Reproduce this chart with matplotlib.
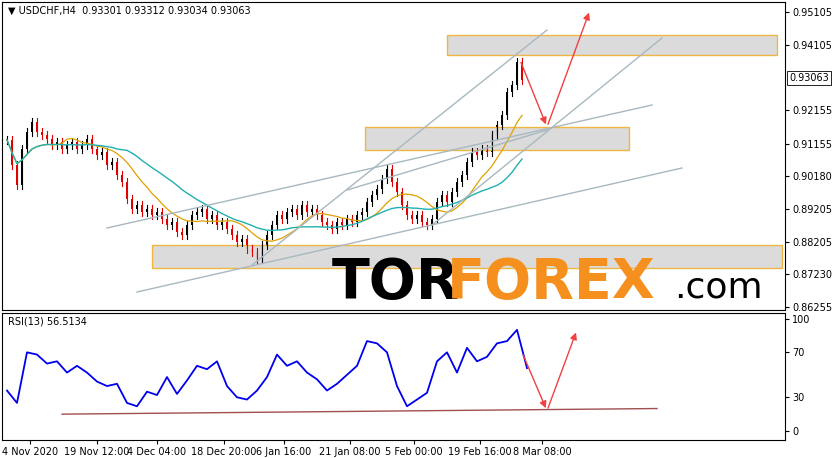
import numpy as np, pandas as pd
import matplotlib
matplotlib.use("Agg")
import matplotlib.pyplot as plt
from matplotlib.patches import Rectangle

closes = [0.9127,0.905,0.899,0.910,0.915,0.918,0.915,0.914,0.913,0.911,0.912,0.910,0.911,0.912,0.910,0.911,0.913,0.910,0.908,0.909,
0.905,0.906,0.902,0.900,0.895,0.892,0.893,0.891,0.892,0.890,0.891,0.889,0.887,0.888,0.885,0.884,0.887,0.890,0.891,0.892,
0.889,0.890,0.887,0.888,0.886,0.884,0.882,0.883,0.880,0.879,0.877,0.881,0.884,0.887,0.890,0.889,0.891,0.892,0.890,0.893,
0.891,0.892,0.890,0.888,0.887,0.886,0.888,0.887,0.889,0.888,0.890,0.891,0.894,0.896,0.898,0.901,0.904,0.900,0.897,0.893,
0.890,0.889,0.890,0.888,0.887,0.889,0.894,0.896,0.894,0.897,0.900,0.902,0.906,0.909,0.908,0.910,0.909,0.914,0.917,0.920,
0.927,0.929,0.936,0.93063]
rsi_vals = [36,25,70,68,60,62,52,58,52,44,40,42,25,22,35,32,48,33,45,58,55,62,40,30,28,36,48,68,58,62,
52,46,36,42,50,58,80,78,70,40,22,28,34,62,70,52,74,62,66,78,80,90,56]
price_ticks = [0.95105,0.94105,0.92155,0.91155,0.90180,0.89205,0.88205,0.87230,0.86255]
date_labels = ["4 Nov 2020","19 Nov 12:00","4 Dec 04:00","18 Dec 20:00","6 Jan 16:00","21 Jan 08:00","5 Feb 00:00","19 Feb 16:00","8 Mar 08:00"]
date_pos = [28,95,155,222,282,348,412,478,540]

W,H = 838,458
fig = plt.figure(figsize=(W/100,H/100),dpi=100)
def P(y): return 0.95105-(y-12)*0.0003
ax = fig.add_axes([2/W,(H-310)/H,783/W,308/H])
ax2 = fig.add_axes([2/W,(H-440)/H,783/W,127/H])
for a in (ax,ax2):
    a.set_xlim(0,783)
    for s in a.spines.values(): s.set_color('black'); s.set_linewidth(0.8)
    a.yaxis.tick_right()
    a.tick_params(labelsize=7,length=3,direction='out',pad=2)
ax.set_ylim(P(310),P(2))
x = 5+5*np.arange(len(closes))
c = np.array(closes)
o = np.r_[c[0],c[:-1]]
for xi,oi,ci in zip(x,o,c):
    col = 'black' if ci>=oi else '#e00000'
    hi = max(oi,ci)+0.0012; lo=min(oi,ci)-0.0012
    ax.plot([xi,xi],[lo,hi],color=col,lw=0.8)
    ax.add_patch(Rectangle((xi-1.2,min(oi,ci)),2.4,max(abs(ci-oi),0.0002),color=col,lw=0))
s = pd.Series(c)
ma1 = s.rolling(10,min_periods=1).mean(); ma2 = s.rolling(22,min_periods=1).mean()
ax.plot(x,ma1,color='#e0a000',lw=0.9); ax.plot(x,ma2,color='#20b0b0',lw=1)
ax.set_yticks(price_ticks); ax.set_yticklabels([f"{t:.5f}" for t in price_ticks])
ax.set_xticks([])
ax.text(787,P(78),"0.93063",fontsize=7,va='center',bbox=dict(fc='white',ec='black',lw=0.6,pad=1.5),clip_on=False)
for (x0,y0,x1,y1) in [(445,35,775,55),(363,127,627,150),(150,245,780,268)]:
    ax.add_patch(Rectangle((x0,P(y1)),x1-x0,P(y0)-P(y1),fc='#d8d8d8',ec='#f0b030',lw=1,alpha=0.9))
for (x0,y0,x1,y1) in [(105,228,650,105),(135,292,680,168),(250,265,545,30),(430,225,660,38),(345,190,545,130)]:
    ax.plot([x0,x1],[P(y0),P(y1)],color='#a8b8c0',lw=1)
for (x0,y0,x1,y1) in [(518,60,545,127),(545,127,588,10)]:
    ax.annotate("",xy=(x1,P(y1)),xytext=(x0,P(y0)),arrowprops=dict(arrowstyle='-|>',color='#f04040',lw=1))
ax.text(330,P(283),"TOR",fontsize=40,fontweight='bold',color='black',va='center')
ax.text(445,P(283),"FOREX",fontsize=40,fontweight='bold',color='#f5901e',va='center')
ax.text(672,P(288),".com",fontsize=26,color='black',va='center')
ax.text(6,P(11),"▼ USDCHF,H4  0.93301 0.93312 0.93034 0.93063",fontsize=7,va='center')
xr = 5+10*np.arange(len(rsi_vals))
ax2.plot(xr,rsi_vals,color='#0000ee',lw=1.3)
ax2.set_ylim(-8,105); ax2.set_yticks([0,30,70,100]); ax2.set_xticks(date_pos); ax2.set_xticklabels(date_labels,fontsize=7)
ax2.plot([60,655],[15,20],color='#a05050',lw=1)
ax2.annotate("",xy=(545,18),xytext=(520,70),arrowprops=dict(arrowstyle='-|>',color='#f04040',lw=1))
ax2.annotate("",xy=(575,90),xytext=(545,18),arrowprops=dict(arrowstyle='-|>',color='#f04040',lw=1))
ax2.text(6,97,"RSI(13) 56.5134",fontsize=7,va='center')
fig.savefig("out.png",dpi=100)
